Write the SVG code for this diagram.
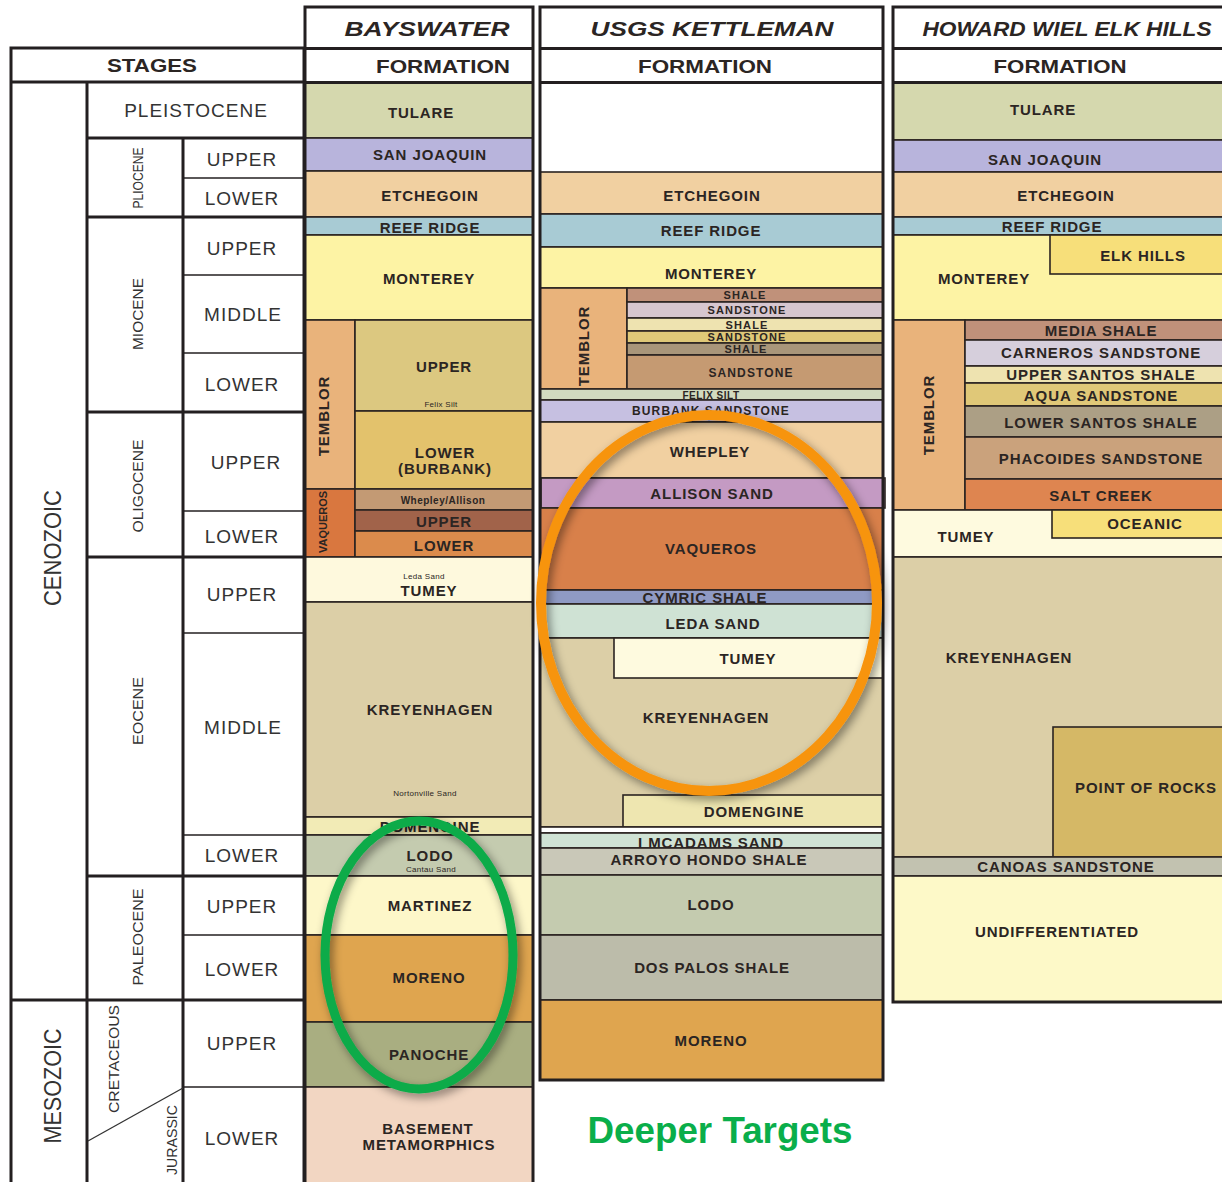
<svg xmlns="http://www.w3.org/2000/svg" width="1222" height="1182" viewBox="0 0 1222 1182">
<defs>
<style>
.b{stroke:#2b2421;stroke-width:1.6}
.L{stroke:#231f20;stroke-width:3;fill:none}
.l{stroke:#231f20;stroke-width:1.6;fill:none}
.f{font-family:"Liberation Sans",Arial,sans-serif;font-weight:bold;fill:#2b2523;text-anchor:middle;dominant-baseline:central;font-size:15px;letter-spacing:0.9px}
.m{font-size:11px;letter-spacing:1.1px}
.t{font-size:8px;font-weight:normal;letter-spacing:0.3px}
.w{font-size:10px;letter-spacing:0.5px}
.st{font-family:"Liberation Sans",Arial,sans-serif;fill:#333;text-anchor:middle;dominant-baseline:central;font-size:19px;letter-spacing:1px}
.v{font-family:"Liberation Sans",Arial,sans-serif;fill:#333;text-anchor:middle;dominant-baseline:central;font-size:15px}
.hd{font-family:"Liberation Sans",Arial,sans-serif;font-weight:bold;font-style:italic;fill:#2b2523;text-anchor:middle;dominant-baseline:central;font-size:21px}
.fm{font-family:"Liberation Sans",Arial,sans-serif;font-weight:bold;fill:#2b2523;text-anchor:middle;dominant-baseline:central;font-size:18px}
</style>
<filter id="sh" x="-20%" y="-20%" width="140%" height="140%">
<feDropShadow dx="3" dy="4" stdDeviation="5" flood-color="#000" flood-opacity="0.45"/>
</filter>
</defs>
<rect width="1222" height="1182" fill="#fff"/>

<!-- STAGES TABLE -->
<g id="stages">
<rect x="11" y="48" width="293" height="1140" fill="#fff" class="L"/>
<line x1="11" y1="82" x2="304" y2="82" class="L"/>
<line x1="87" y1="82" x2="87" y2="1182" class="L"/>
<line x1="183" y1="138" x2="183" y2="1182" class="L"/>
<line x1="87" y1="138" x2="304" y2="138" class="L"/>
<line x1="183" y1="178" x2="304" y2="178" class="l"/>
<line x1="87" y1="217" x2="304" y2="217" class="L"/>
<line x1="183" y1="275" x2="304" y2="275" class="l"/>
<line x1="183" y1="353" x2="304" y2="353" class="l"/>
<line x1="87" y1="412" x2="304" y2="412" class="L"/>
<line x1="183" y1="511" x2="304" y2="511" class="l"/>
<line x1="87" y1="557" x2="304" y2="557" class="L"/>
<line x1="183" y1="633" x2="304" y2="633" class="l"/>
<line x1="183" y1="835" x2="304" y2="835" class="l"/>
<line x1="87" y1="876" x2="304" y2="876" class="L"/>
<line x1="183" y1="935" x2="304" y2="935" class="l"/>
<line x1="11" y1="1000" x2="304" y2="1000" class="L"/>
<line x1="183" y1="1087" x2="304" y2="1087" class="l"/>
<line x1="183" y1="1088" x2="88" y2="1141" stroke="#333" stroke-width="1.3"/>
<text class="fm" x="152" y="66" textLength="90" lengthAdjust="spacingAndGlyphs">STAGES</text>
<text class="st" x="196" y="110">PLEISTOCENE</text>
<text class="st" x="242" y="159">UPPER</text>
<text class="st" x="242" y="198">LOWER</text>
<text class="st" x="242" y="248">UPPER</text>
<text class="st" x="243" y="314">MIDDLE</text>
<text class="st" x="242" y="384">LOWER</text>
<text class="st" x="246" y="462">UPPER</text>
<text class="st" x="242" y="536">LOWER</text>
<text class="st" x="242" y="594">UPPER</text>
<text class="st" x="243" y="727">MIDDLE</text>
<text class="st" x="242" y="855">LOWER</text>
<text class="st" x="242" y="906">UPPER</text>
<text class="st" x="242" y="969">LOWER</text>
<text class="st" x="242" y="1043">UPPER</text>
<text class="st" x="242" y="1138">LOWER</text>
<text class="v" transform="translate(137,178) rotate(-90)" textLength="61" lengthAdjust="spacingAndGlyphs">PLIOCENE</text>
<text class="v" transform="translate(137,314) rotate(-90)" textLength="72" lengthAdjust="spacingAndGlyphs">MIOCENE</text>
<text class="v" transform="translate(137,486) rotate(-90)" textLength="93" lengthAdjust="spacingAndGlyphs">OLIGOCENE</text>
<text class="v" transform="translate(137,711) rotate(-90)" textLength="68" lengthAdjust="spacingAndGlyphs">EOCENE</text>
<text class="v" transform="translate(137,937) rotate(-90)" textLength="97" lengthAdjust="spacingAndGlyphs">PALEOCENE</text>
<text class="v" transform="translate(113,1059) rotate(-90)" textLength="108" lengthAdjust="spacingAndGlyphs">CRETACEOUS</text>
<text class="v" transform="translate(171,1140) rotate(-90)" textLength="70" lengthAdjust="spacingAndGlyphs">JURASSIC</text>
<text class="v" transform="translate(52,548) rotate(-90)" style="font-size:24px" textLength="116" lengthAdjust="spacingAndGlyphs">CENOZOIC</text>
<text class="v" transform="translate(52,1086) rotate(-90)" style="font-size:24px" textLength="115" lengthAdjust="spacingAndGlyphs">MESOZOIC</text>
</g>

<!-- BAYSWATER -->
<g id="bayswater">
<rect x="305" y="7" width="228" height="75" fill="#fff"/>
<text class="hd" x="427" y="28" textLength="165" lengthAdjust="spacingAndGlyphs">BAYSWATER</text>
<text class="fm" x="443" y="67" textLength="134" lengthAdjust="spacingAndGlyphs">FORMATION</text>
<g id="bw-tulare"><rect x="305" y="83" width="228" height="55" fill="#d5d8ae" class="b"/><text class="f" x="421" y="112">TULARE</text></g>
<g id="bw-sanjoaquin"><rect x="305" y="138" width="228" height="33" fill="#b8b4dc" class="b"/><text class="f" x="430" y="154">SAN JOAQUIN</text></g>
<g id="bw-etchegoin"><rect x="305" y="171" width="228" height="46" fill="#f1d0a1" class="b"/><text class="f" x="430" y="195">ETCHEGOIN</text></g>
<g id="bw-reefridge"><rect x="305" y="217" width="228" height="18" fill="#a8cbd4" class="b"/><text class="f" x="430" y="227">REEF RIDGE</text></g>
<g id="bw-monterey"><rect x="305" y="235" width="228" height="85" fill="#fdf3a4" class="b"/><text class="f" x="429" y="278">MONTEREY</text></g>
<g id="bw-temblor"><rect x="305" y="320" width="50" height="169" fill="#e9b37b" class="b"/><text class="f" transform="translate(323,416) rotate(-90)">TEMBLOR</text></g>
<g id="bw-temblor-upper"><rect x="355" y="320" width="178" height="91" fill="#dcc880" class="b"/><text class="f" x="444" y="366">UPPER</text><text class="f t" x="441" y="404">Felix Silt</text></g>
<g id="bw-temblor-lower"><rect x="355" y="411" width="178" height="78" fill="#e3c26c" class="b"/><text class="f" x="445" y="452">LOWER</text><text class="f" x="445" y="468">(BURBANK)</text></g>
<g id="bw-vaqueros"><rect x="305" y="489" width="50" height="68" fill="#d9773f" class="b"/><text class="f" transform="translate(323,522) rotate(-90)" style="font-size:11px;letter-spacing:0px" textLength="62" lengthAdjust="spacingAndGlyphs">VAQUEROS</text></g>
<g id="bw-whepley"><rect x="355" y="489" width="178" height="21" fill="#c39a74" class="b"/><text class="f w" x="443" y="500">Whepley/Allison</text></g>
<g id="bw-vaq-upper"><rect x="355" y="510" width="178" height="21" fill="#a1634a" class="b"/><text class="f" x="444" y="521">UPPER</text></g>
<g id="bw-vaq-lower"><rect x="355" y="531" width="178" height="26" fill="#db8b4c" class="b"/><text class="f" x="444" y="545">LOWER</text></g>
<g id="bw-tumey"><rect x="305" y="557" width="228" height="45" fill="#fef9dd" class="b"/><text class="f t" x="424" y="576">Leda Sand</text><text class="f" x="429" y="590">TUMEY</text></g>
<g id="bw-kreyenhagen"><rect x="305" y="602" width="228" height="215" fill="#dccfa7" class="b"/><text class="f" x="430" y="709">KREYENHAGEN</text><text class="f t" x="425" y="793">Nortonville Sand</text></g>
<g id="bw-domengine"><rect x="305" y="817" width="228" height="18" fill="#f2ebb6" class="b"/><text class="f" x="430" y="826">DOMENGINE</text></g>
<g id="bw-lodo"><rect x="305" y="835" width="228" height="41" fill="#c4cbaf" class="b"/><text class="f" x="430" y="855">LODO</text><text class="f t" x="431" y="869">Cantau Sand</text></g>
<g id="bw-martinez"><rect x="305" y="876" width="228" height="59" fill="#fdf7c9" class="b"/><text class="f" x="430" y="905">MARTINEZ</text></g>
<g id="bw-moreno"><rect x="305" y="935" width="228" height="87" fill="#dfa54f" class="b"/><text class="f" x="429" y="977">MORENO</text></g>
<g id="bw-panoche"><rect x="305" y="1022" width="228" height="65" fill="#a9ae81" class="b"/><text class="f" x="429" y="1054">PANOCHE</text></g>
<g id="bw-basement"><rect x="305" y="1087" width="228" height="100" fill="#f2d6c2" class="b"/><text class="f" x="428" y="1128">BASEMENT</text><text class="f" x="429" y="1144">METAMORPHICS</text></g>
<rect x="305" y="7" width="228" height="1180" class="L"/>
<line x1="305" y1="48.5" x2="533" y2="48.5" class="L"/>
<line x1="305" y1="82.5" x2="533" y2="82.5" class="L"/>
</g>

<!-- USGS KETTLEMAN -->
<g id="usgs">
<rect x="540" y="7" width="343" height="165" fill="#fff"/>
<text class="hd" x="712" y="28" textLength="243" lengthAdjust="spacingAndGlyphs">USGS KETTLEMAN</text>
<text class="fm" x="705" y="67" textLength="134" lengthAdjust="spacingAndGlyphs">FORMATION</text>
<g id="us-etchegoin"><rect x="540" y="172" width="343" height="42" fill="#f1d0a1" class="b"/><text class="f" x="712" y="195">ETCHEGOIN</text></g>
<g id="us-reefridge"><rect x="540" y="214" width="343" height="33" fill="#a8cbd4" class="b"/><text class="f" x="711" y="230">REEF RIDGE</text></g>
<g id="us-monterey"><rect x="540" y="247" width="343" height="41" fill="#fdf3a4" class="b"/><text class="f" x="711" y="273">MONTEREY</text></g>
<g id="us-temblor"><rect x="540" y="288" width="87" height="101" fill="#e9b37b" class="b"/><text class="f" transform="translate(583,346) rotate(-90)">TEMBLOR</text></g>
<g id="us-shale1"><rect x="627" y="288" width="256" height="14" fill="#c0917a" class="b"/><text class="f m" x="745" y="295">SHALE</text></g>
<g id="us-sand1"><rect x="627" y="302" width="256" height="16" fill="#d6c6cf" class="b"/><text class="f m" x="747" y="310">SANDSTONE</text></g>
<g id="us-shale2"><rect x="627" y="318" width="256" height="13" fill="#eee3b0" class="b"/><text class="f m" x="747" y="325">SHALE</text></g>
<g id="us-sand2"><rect x="627" y="331" width="256" height="12" fill="#dfc878" class="b"/><text class="f m" x="747" y="337">SANDSTONE</text></g>
<g id="us-shale3"><rect x="627" y="343" width="256" height="12" fill="#a9967a" class="b"/><text class="f m" x="746" y="349">SHALE</text></g>
<g id="us-sand3"><rect x="627" y="355" width="256" height="34" fill="#c59a72" class="b"/><text class="f m" x="751" y="373" style="font-size:12px">SANDSTONE</text></g>
<g id="us-felix"><rect x="540" y="389" width="343" height="11" fill="#d2dabf" class="b"/><text class="f w" x="711" y="395">FELIX SILT</text></g>
<g id="us-burbank"><rect x="540" y="400" width="343" height="22" fill="#c6c0e1" class="b"/><text class="f m" x="711" y="411" style="font-size:12px">BURBANK SANDSTONE</text></g>
<g id="us-whepley"><rect x="540" y="422" width="343" height="56" fill="#f1d0a1" class="b"/><text class="f" x="710" y="451">WHEPLEY</text></g>
<g id="us-allison"><rect x="541" y="478" width="344" height="30" fill="#c49ac3" class="b"/><text class="f" x="712" y="493">ALLISON SAND</text></g>
<g id="us-vaqueros"><rect x="540" y="508" width="343" height="82" fill="#d8804a" class="b"/><text class="f" x="711" y="548">VAQUEROS</text></g>
<g id="us-cymric"><rect x="540" y="590" width="343" height="14" fill="#8f9ac4" class="b"/><text class="f" x="705" y="597">CYMRIC SHALE</text></g>
<g id="us-leda"><rect x="540" y="604" width="343" height="34" fill="#cfe2d4" class="b"/><text class="f" x="713" y="623">LEDA SAND</text></g>
<g id="us-kreyenhagen"><rect x="540" y="638" width="343" height="189" fill="#dccfa7" class="b"/><text class="f" x="706" y="717">KREYENHAGEN</text></g>
<g id="us-tumey"><rect x="614" y="638" width="269" height="40" fill="#fefadf" class="b"/><text class="f" x="748" y="658">TUMEY</text></g>
<g id="us-domengine"><rect x="623" y="795" width="260" height="32" fill="#eee6b0" class="b"/><text class="f" x="754" y="811">DOMENGINE</text></g>
<g id="us-gap"><rect x="540" y="827" width="343" height="6" fill="#fff" class="b"/></g>
<g id="us-mcadams"><rect x="540" y="833" width="343" height="15" fill="#cfe2d4" class="b"/><text class="f" x="711" y="842">I MCADAMS SAND</text></g>
<g id="us-arroyo"><rect x="540" y="848" width="343" height="27" fill="#c9c8b8" class="b"/><text class="f" x="709" y="859">ARROYO HONDO SHALE</text></g>
<g id="us-lodo"><rect x="540" y="875" width="343" height="60" fill="#c4cbaf" class="b"/><text class="f" x="711" y="904">LODO</text></g>
<g id="us-dospalos"><rect x="540" y="935" width="343" height="65" fill="#bcbcaa" class="b"/><text class="f" x="712" y="967">DOS PALOS SHALE</text></g>
<g id="us-moreno"><rect x="540" y="1000" width="343" height="80" fill="#dfa54f" class="b"/><text class="f" x="711" y="1040">MORENO</text></g>
<rect x="540" y="7" width="343" height="1073" class="L"/>
<line x1="540" y1="48.5" x2="883" y2="48.5" class="L"/>
<line x1="540" y1="82.5" x2="883" y2="82.5" class="L"/>
</g>

<!-- HOWARD WIEL ELK HILLS -->
<g id="howard">
<rect x="893" y="7" width="340" height="76" fill="#fff"/>
<text class="hd" x="1067" y="28" textLength="289" lengthAdjust="spacingAndGlyphs">HOWARD WIEL ELK HILLS</text>
<text class="fm" x="1060" y="67" textLength="133" lengthAdjust="spacingAndGlyphs">FORMATION</text>
<g id="hw-tulare"><rect x="893" y="83" width="340" height="57" fill="#d5d8ae" class="b"/><text class="f" x="1043" y="109">TULARE</text></g>
<g id="hw-sanjoaquin"><rect x="893" y="140" width="340" height="32" fill="#b8b4dc" class="b"/><text class="f" x="1045" y="159">SAN JOAQUIN</text></g>
<g id="hw-etchegoin"><rect x="893" y="172" width="340" height="45" fill="#f1d0a1" class="b"/><text class="f" x="1066" y="195">ETCHEGOIN</text></g>
<g id="hw-reefridge"><rect x="893" y="217" width="340" height="18" fill="#a8cbd4" class="b"/><text class="f" x="1052" y="226">REEF RIDGE</text></g>
<g id="hw-monterey"><rect x="893" y="235" width="340" height="85" fill="#fdf3a4" class="b"/><text class="f" x="984" y="278">MONTEREY</text></g>
<g id="hw-elkhills"><rect x="1050" y="235" width="183" height="39" fill="#f7df7a" class="b"/><text class="f" x="1143" y="255">ELK HILLS</text></g>
<g id="hw-temblor"><rect x="893" y="320" width="72" height="190" fill="#e9b37b" class="b"/><text class="f" transform="translate(928,415) rotate(-90)">TEMBLOR</text></g>
<g id="hw-media"><rect x="965" y="320" width="268" height="20" fill="#c0917a" class="b"/><text class="f" x="1101" y="330">MEDIA SHALE</text></g>
<g id="hw-carneros"><rect x="965" y="340" width="268" height="26" fill="#d6cfdc" class="b"/><text class="f" x="1101" y="352">CARNEROS SANDSTONE</text></g>
<g id="hw-uppersantos"><rect x="965" y="366" width="268" height="17" fill="#eee3b0" class="b"/><text class="f" x="1101" y="374">UPPER SANTOS SHALE</text></g>
<g id="hw-aqua"><rect x="965" y="383" width="268" height="23" fill="#e0c878" class="b"/><text class="f" x="1101" y="395">AQUA SANDSTONE</text></g>
<g id="hw-lowersantos"><rect x="965" y="406" width="268" height="31" fill="#ac9f85" class="b"/><text class="f" x="1101" y="422">LOWER SANTOS SHALE</text></g>
<g id="hw-phacoides"><rect x="965" y="437" width="268" height="42" fill="#caa27c" class="b"/><text class="f" x="1101" y="458">PHACOIDES SANDSTONE</text></g>
<g id="hw-saltcreek"><rect x="965" y="479" width="268" height="31" fill="#de8550" class="b"/><text class="f" x="1101" y="495">SALT CREEK</text></g>
<g id="hw-tumey"><rect x="893" y="510" width="340" height="47" fill="#fefadf" class="b"/><text class="f" x="966" y="536">TUMEY</text></g>
<g id="hw-oceanic"><rect x="1052" y="510" width="181" height="28" fill="#f7df7a" class="b"/><text class="f" x="1145" y="523">OCEANIC</text></g>
<g id="hw-kreyenhagen"><rect x="893" y="557" width="340" height="300" fill="#dccfa7" class="b"/><text class="f" x="1009" y="657">KREYENHAGEN</text></g>
<g id="hw-pointofrocks"><rect x="1053" y="727" width="180" height="130" fill="#d5b866" class="b"/><text class="f" x="1146" y="787">POINT OF ROCKS</text></g>
<g id="hw-canoas"><rect x="893" y="857" width="340" height="19" fill="#c2c2b0" class="b"/><text class="f" x="1066" y="866">CANOAS SANDSTONE</text></g>
<g id="hw-undiff"><rect x="893" y="876" width="340" height="126" fill="#fdf9c8" class="b"/><text class="f" x="1057" y="931">UNDIFFERENTIATED</text></g>
<rect x="893" y="7" width="340" height="995" class="L"/>
<line x1="893" y1="48.5" x2="1222" y2="48.5" class="L"/>
<line x1="893" y1="82.5" x2="1222" y2="82.5" class="L"/>
</g>

<!-- HIGHLIGHTS -->
<g id="highlights" fill="none" filter="url(#sh)">
<ellipse cx="709" cy="603" rx="168" ry="188" stroke="#f7940f" stroke-width="10"/>
<ellipse cx="419" cy="955" rx="94" ry="134" stroke="#0bab48" stroke-width="9"/>
</g>
<g id="connectors"/>
<text x="720" y="1143" font-family="Liberation Sans, Arial, sans-serif" font-weight="bold" font-size="36" fill="#0aae4a" text-anchor="middle" textLength="265" lengthAdjust="spacingAndGlyphs">Deeper Targets</text>
</svg>
